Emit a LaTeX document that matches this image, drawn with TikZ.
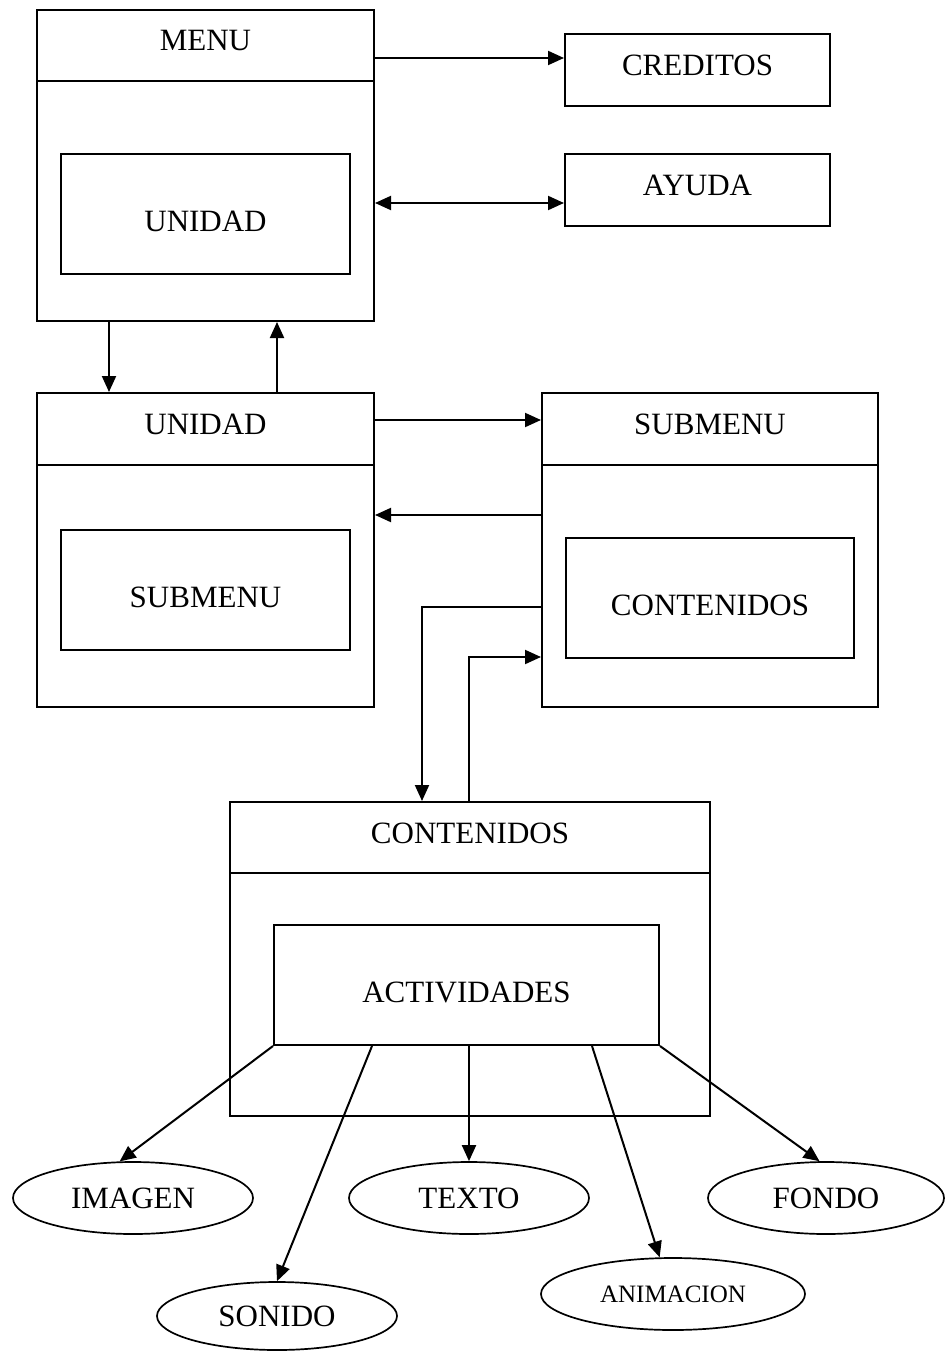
\documentclass[tikz,border=0pt]{standalone}
\usepackage{fontspec}
\setmainfont{Liberation Serif}
\usepackage{tikz}
\usetikzlibrary{arrows.meta}
\usetikzlibrary{shapes.geometric}

\begin{document}
\begin{tikzpicture}[x=1pt, y=-1pt, line width=2pt, line join=miter,
  >={Triangle[length=16pt,width=14pt]},
  font=\fontsize{31}{36}\selectfont,
  marco/.style={draw, rectangle, inner sep=0pt, minimum width=337pt, minimum height=313pt},
  titulo/.style={inner sep=0pt, text height=21pt, text depth=10pt},
  interno/.style={draw, rectangle, inner sep=0pt, minimum width=289pt, minimum height=120pt, text height=35pt, text depth=0pt},
  cuadro/.style={draw, rectangle, inner sep=0pt, minimum width=265pt, minimum height=72pt, text height=22pt, text depth=10pt},
  hoja/.style={draw, ellipse, line width=1.7pt, inner sep=0pt, minimum width=240pt, minimum height=72pt}]
  \useasboundingbox (0,0) rectangle (945,1351);
  % top row
  \node[marco, minimum height=311pt] (menu) at (205.5,165.5) {};
  \node[titulo] (menuT) at (205.5,45.5) {MENU};
  \node[interno] (unidadIn) at (205.5,214) {UNIDAD};
  \node[cuadro] (creditos) at (697.5,70) {CREDITOS};
  \node[cuadro] (ayuda) at (697.5,190) {AYUDA};
  % middle row
  \node[marco, minimum height=314pt] (unidad) at (205.5,550) {};
  \node[titulo] (unidadT) at (205.5,429) {UNIDAD};
  \node[interno] (submenuIn) at (205.5,590) {SUBMENU};
  \node[marco, minimum width=336pt, minimum height=314pt] (submenu) at (710,550) {};
  \node[titulo] (submenuT) at (710,429) {SUBMENU};
  \node[interno, minimum width=288pt] (contenIn) at (710,598) {CONTENIDOS};
  % bottom
  \node[marco, minimum width=480pt, minimum height=314pt] (conten) at (470,959) {};
  \node[titulo] (contenT) at (470,837.5) {CONTENIDOS};
  \node[interno, minimum width=385pt] (activ) at (466.5,985) {ACTIVIDADES};
  \node[hoja] (imagen) at (133,1198) {IMAGEN};
  \node[hoja] (texto) at (469,1198) {TEXTO};
  \node[hoja, minimum width=236pt] (fondo) at (826,1198) {FONDO};
  \node[hoja, minimum height=68pt] (sonido) at (277,1316) {SONIDO};
  \node[hoja, minimum width=264pt, font=\fontsize{25}{30}\selectfont] (animacion) at (673,1294) {ANIMACION};
  % header lines
  \foreach \n/\y in {menu/81, unidad/465, submenu/465, conten/873}
    \draw (\n.west |- 0,\y) -- (\n.east |- 0,\y);
  % connectors
  \draw[->] (menu.east |- 0,58) -- (creditos.west |- 0,58);
  \draw[<->] (menu.east |- 0,203) -- (ayuda.west |- 0,203);
  \draw[->] (109,0 |- menu.south) -- (109,0 |- unidad.north);
  \draw[->] (277,0 |- unidad.north) -- (277,0 |- menu.south);
  \draw[->] (unidad.east |- 0,420) -- (submenu.west |- 0,420);
  \draw[->] (submenu.west |- 0,515) -- (unidad.east |- 0,515);
  \draw[->] (submenu.west |- 0,607) -| (422,0 |- conten.north);
  \draw[->] (469,0 |- conten.north) |- (submenu.west |- 0,657);
  \draw[->] (activ.south west) -- (imagen.110);
  \draw[->] (372,0 |- activ.south) -- (sonido.north);
  \draw[->] (texto.north |- activ.south) -- (texto.north);
  \draw[->] (592,0 |- activ.south) -- (animacion.110);
  \draw[->] (activ.south east) -- (fondo.100);
\end{tikzpicture}
\end{document}
